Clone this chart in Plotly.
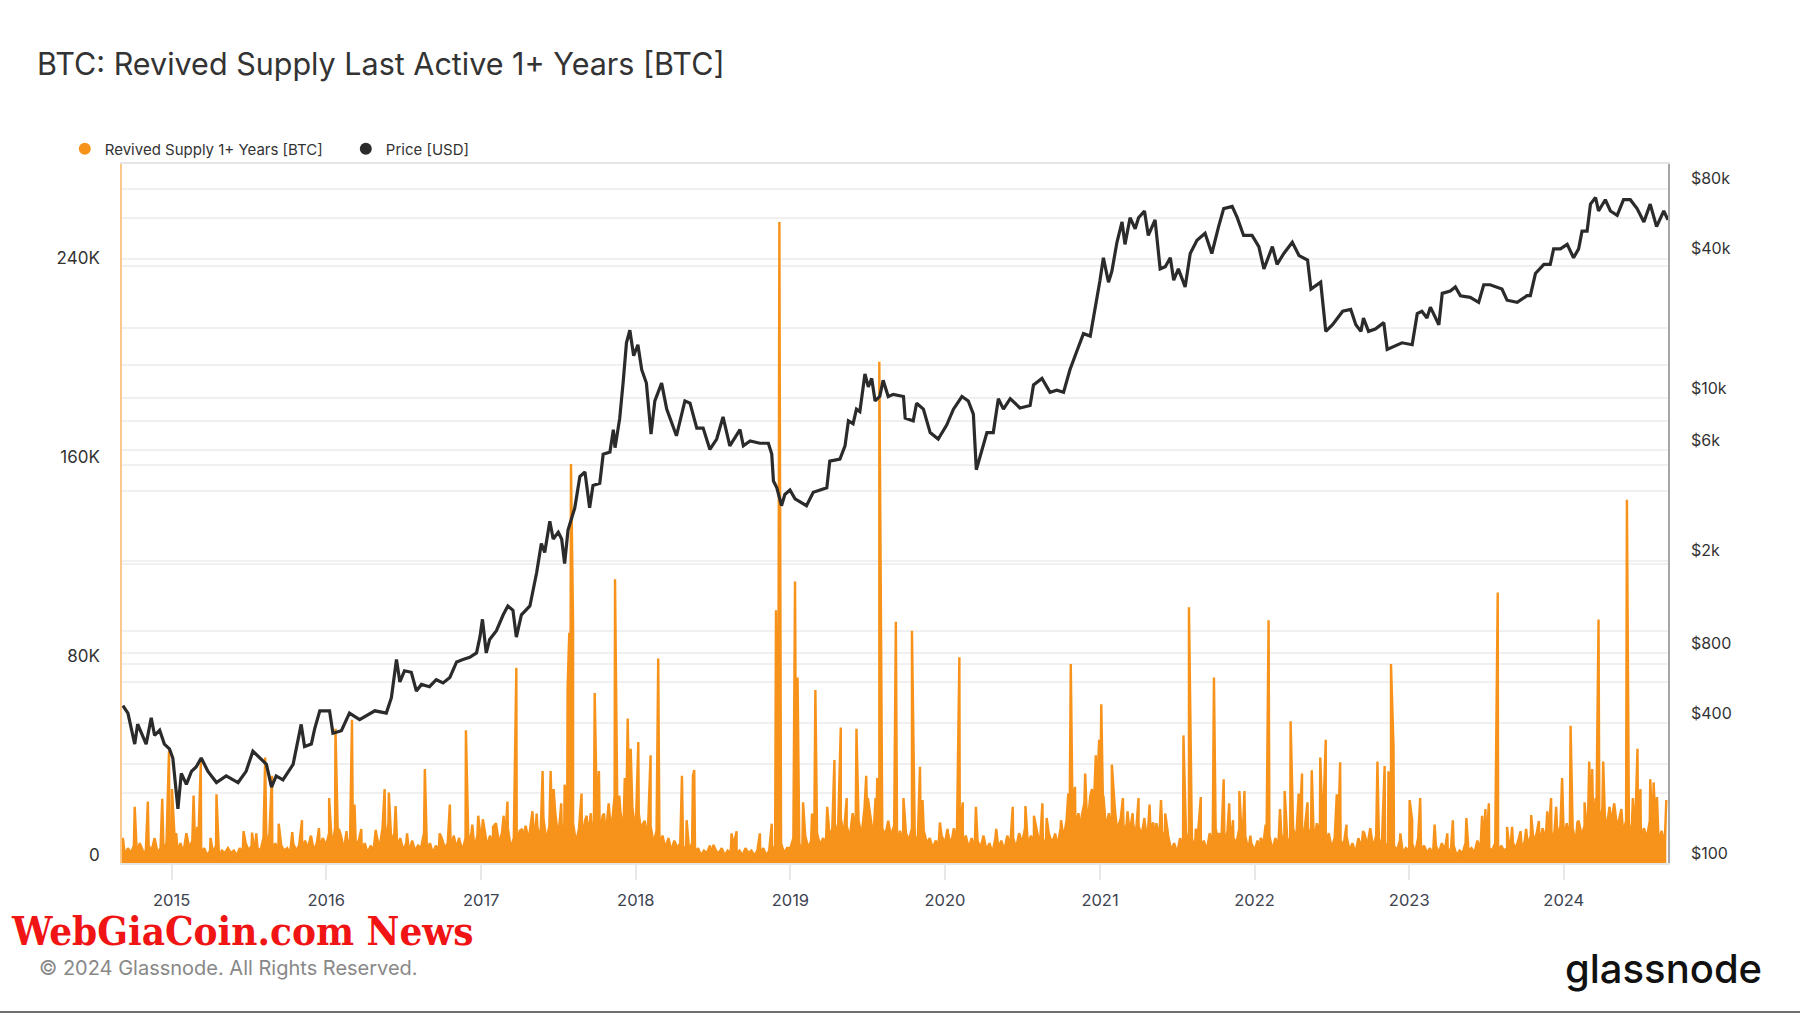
import pandas as pd
import plotly.graph_objects as go

# ---------------- Price [USD] ----------------
price_dates = [
    "2014-09-08", "2014-09-20", "2014-10-06", "2014-10-13", "2014-11-02", "2014-11-14", "2014-11-22",
    "2014-12-04", "2014-12-15", "2014-12-27", "2015-01-04", "2015-01-16", "2015-01-24", "2015-02-05",
    "2015-02-17", "2015-02-28", "2015-03-12", "2015-03-28", "2015-04-17", "2015-05-10", "2015-06-07",
    "2015-06-26", "2015-07-12", "2015-07-28", "2015-08-13", "2015-08-25", "2015-09-05", "2015-09-21",
    "2015-10-15", "2015-11-03", "2015-11-11", "2015-11-27", "2015-12-05", "2015-12-17", "2016-01-09",
    "2016-01-17", "2016-02-06", "2016-02-25", "2016-03-20", "2016-04-25", "2016-05-22", "2016-06-03",
    "2016-06-15", "2016-06-23", "2016-07-04", "2016-07-20", "2016-08-01", "2016-08-13", "2016-09-01",
    "2016-09-17", "2016-10-03", "2016-10-19", "2016-11-04", "2016-11-19", "2016-12-05", "2016-12-21",
    "2016-12-29", "2017-01-04", "2017-01-13", "2017-01-21", "2017-02-06", "2017-02-22", "2017-03-05",
    "2017-03-17", "2017-03-25", "2017-04-06", "2017-04-26", "2017-05-12", "2017-05-23", "2017-05-31",
    "2017-06-12", "2017-06-20", "2017-07-02", "2017-07-10", "2017-07-17", "2017-07-25", "2017-08-10",
    "2017-08-22", "2017-09-03", "2017-09-14", "2017-09-22", "2017-10-08", "2017-10-16", "2017-11-01",
    "2017-11-09", "2017-11-13", "2017-11-24", "2017-12-02", "2017-12-10", "2017-12-18", "2017-12-27",
    "2018-01-06", "2018-01-15", "2018-01-26", "2018-02-06", "2018-02-15", "2018-03-03", "2018-03-15",
    "2018-03-30", "2018-04-07", "2018-04-27", "2018-05-09", "2018-05-25", "2018-06-09", "2018-06-25",
    "2018-07-11", "2018-07-26", "2018-08-11", "2018-09-04", "2018-09-12", "2018-09-28", "2018-10-21",
    "2018-11-10", "2018-11-18", "2018-11-22", "2018-11-30", "2018-12-11", "2018-12-19", "2018-12-31",
    "2019-01-12", "2019-02-08", "2019-02-24", "2019-03-28", "2019-04-04", "2019-04-28", "2019-05-10",
    "2019-05-18", "2019-05-29", "2019-06-06", "2019-06-14", "2019-06-26", "2019-07-04", "2019-07-12",
    "2019-07-20", "2019-07-31", "2019-08-08", "2019-08-20", "2019-09-01", "2019-09-25", "2019-09-29",
    "2019-10-18", "2019-10-26", "2019-11-11", "2019-11-27", "2019-12-16", "2020-01-05", "2020-01-21",
    "2020-02-10", "2020-02-25", "2020-03-08", "2020-03-15", "2020-03-28", "2020-04-09", "2020-04-24",
    "2020-05-06", "2020-05-18", "2020-06-03", "2020-06-26", "2020-07-20", "2020-07-28", "2020-08-17",
    "2020-09-05", "2020-09-21", "2020-10-07", "2020-10-22", "2020-11-07", "2020-11-23", "2020-12-09",
    "2020-12-20", "2021-01-01", "2021-01-09", "2021-01-21", "2021-01-29", "2021-02-10", "2021-02-22",
    "2021-03-01", "2021-03-13", "2021-03-25", "2021-04-02", "2021-04-16", "2021-04-25", "2021-05-11",
    "2021-05-23", "2021-06-04", "2021-06-16", "2021-06-24", "2021-07-05", "2021-07-21", "2021-08-02",
    "2021-08-18", "2021-09-06", "2021-09-22", "2021-10-08", "2021-10-20", "2021-11-09", "2021-11-21",
    "2021-12-06", "2021-12-26", "2022-01-11", "2022-01-23", "2022-02-12", "2022-02-23", "2022-03-11",
    "2022-03-31", "2022-04-16", "2022-05-06", "2022-05-14", "2022-06-06", "2022-06-18", "2022-07-04",
    "2022-07-28", "2022-08-16", "2022-08-28", "2022-09-09", "2022-09-15", "2022-09-27", "2022-10-13",
    "2022-11-02", "2022-11-10", "2022-11-25", "2022-12-15", "2023-01-08", "2023-01-20", "2023-01-31",
    "2023-02-12", "2023-02-20", "2023-03-04", "2023-03-12", "2023-03-20", "2023-04-08", "2023-04-20",
    "2023-05-02", "2023-05-25", "2023-06-14", "2023-06-26", "2023-07-11", "2023-08-08", "2023-08-20",
    "2023-09-13", "2023-10-06", "2023-10-14", "2023-10-26", "2023-11-15", "2023-11-30", "2023-12-08",
    "2023-12-24", "2024-01-09", "2024-01-24", "2024-02-05", "2024-02-13", "2024-02-25", "2024-03-04",
    "2024-03-16", "2024-03-23", "2024-04-08", "2024-04-20", "2024-05-06", "2024-05-21", "2024-06-06",
    "2024-06-22", "2024-07-08", "2024-07-23", "2024-08-07", "2024-08-24", "2024-09-03",
]
price_usd = [
    476, 442, 325, 396, 325, 422, 354,
    373, 325, 310, 283, 171, 243, 218,
    248, 259, 283, 248, 222, 237, 222,
    248, 303, 283, 266, 212, 237, 228,
    266, 395, 317, 325, 379, 452, 452,
    362, 371, 442, 414, 452, 442, 515,
    752, 602, 672, 662, 550, 587, 574,
    615, 596, 629, 734, 752, 768, 802,
    938, 1119, 802, 917, 1001, 1171, 1278,
    1224, 938, 1171, 1278, 1781, 2373, 2173,
    2961, 2480, 2652, 2480, 1947, 2713, 3381,
    4609, 4818, 3381, 4219, 4313, 5749, 5875,
    7332, 6138, 8182, 11640, 17350, 19650, 15260,
    17020, 13290, 11640, 7014, 9754, 11640, 8987,
    7453, 6905, 9754, 9535, 7453, 7453, 6028,
    6686, 8330, 6247, 7343, 6247, 6554, 6412,
    6412, 5754, 4406, 4121, 3452, 3858, 4033,
    3694, 3452, 3946, 4121, 5370, 5480, 6247,
    8001, 7782, 8987, 8768, 12740, 11200, 12190,
    9754, 10190, 11970, 10190, 10410, 10190, 8220,
    8001, 9535, 8987, 7124, 6686, 7672, 8987,
    10190, 9754, 8549, 4932, 6028, 7124, 7124,
    9974, 8987, 9974, 9097, 9316, 11420, 12190,
    10630, 10850, 10630, 13290, 15920, 19000, 18560,
    23720, 32280, 40300, 31620, 35250, 47000, 57450,
    46010, 59970, 53700, 59970, 64060, 50290, 58650,
    36120, 36890, 40300, 32280, 36120, 30200, 42050,
    47980, 51390, 42050, 54900, 65590, 67020, 59970,
    50290, 50290, 45020, 36120, 45020, 37770, 42050,
    47000, 41180, 39420, 29540, 31620, 19430, 20750,
    23720, 24160, 20750, 19430, 22180, 19430, 19870,
    21190, 16250, 16690, 17350, 17020, 23170, 23720,
    22180, 24710, 22180, 20750, 28330, 28990, 30200,
    27670, 27230, 25910, 30850, 30850, 29540, 26460,
    25910, 27670, 27670, 34480, 37770, 37770, 44030,
    44030, 46010, 40300, 44030, 52480, 52480, 68580,
    73200, 64060, 71650, 64060, 61300, 71650, 71650,
    65590, 57450, 68580, 54900, 64060, 58650,
]

# ---------------- Revived Supply 1+ Years [BTC] ----------------
# weekly background level (thousand BTC), one list per year
bg_start = {"2014": "2014-09-06", "2015": "2015-01-01", "2016": "2016-01-01", "2017": "2017-01-01",
            "2018": "2018-01-01", "2019": "2019-01-01", "2020": "2020-01-01", "2021": "2021-01-01",
            "2022": "2022-01-01", "2023": "2023-01-01", "2024": "2024-01-01"}
bg_2014_k = [5, 3, 6, 4, 7, 4, 8, 5, 4, 7, 5, 10, 4, 6, 5, 8, 4]
bg_2015_k = [6, 11, 5, 8, 4, 12, 6, 9, 5, 7, 4, 6, 3, 5, 4, 7, 3, 5, 4, 6, 4, 5, 3, 6, 4, 8,
             5, 7, 4, 6, 5, 10, 6, 12, 5, 8, 4, 7, 5, 6, 4, 8, 5, 7, 4, 9, 6, 11, 5, 8, 6, 10]
bg_2016_k = [7, 12, 6, 14, 8, 11, 5, 10, 6, 13, 7, 9, 5, 8, 4, 7, 5, 11, 6, 14, 7, 16, 8, 12, 6, 10,
             5, 8, 4, 9, 5, 7, 6, 12, 5, 8, 4, 7, 5, 10, 6, 8, 5, 11, 6, 9, 5, 10, 7, 12, 6, 11]
bg_2017_k = [8, 14, 7, 11, 6, 16, 8, 12, 7, 14, 6, 10, 8, 13, 7, 15, 9, 17, 8, 14, 10, 18, 9, 15, 11, 20,
             10, 24, 12, 18, 10, 16, 8, 14, 9, 17, 11, 20, 10, 22, 12, 19, 11, 24, 14, 27, 12, 20, 14, 26, 16, 22]
bg_2018_k = [14, 20, 11, 17, 10, 15, 8, 13, 7, 11, 6, 10, 5, 9, 6, 8, 4, 7, 5, 8, 4, 6, 3, 5, 4, 7,
             3, 5, 4, 6, 3, 5, 4, 7, 4, 5, 3, 6, 4, 5, 3, 5, 4, 6, 3, 5, 4, 7, 5, 8, 4, 6]
bg_2019_k = [6, 10, 5, 8, 4, 11, 6, 9, 5, 12, 7, 10, 8, 14, 9, 16, 10, 18, 11, 15, 10, 20, 12, 17, 11, 22,
             13, 18, 10, 16, 9, 14, 11, 17, 10, 15, 8, 13, 7, 12, 9, 14, 8, 11, 7, 13, 8, 10, 6, 9, 7, 11]
bg_2020_k = [8, 12, 7, 14, 9, 13, 7, 11, 6, 10, 5, 9, 6, 11, 5, 8, 4, 10, 6, 9, 5, 11, 7, 10, 6, 12,
             8, 14, 7, 11, 8, 13, 7, 10, 6, 12, 8, 11, 7, 14, 10, 17, 12, 22, 14, 20, 12, 24, 14, 27, 16, 22]
bg_2021_k = [17, 24, 14, 20, 12, 22, 14, 18, 11, 16, 12, 20, 10, 15, 11, 17, 9, 14, 8, 16, 10, 13, 7, 11, 5, 8,
             4, 10, 6, 12, 7, 10, 5, 11, 6, 9, 5, 12, 7, 14, 8, 11, 6, 13, 7, 10, 8, 14, 6, 11, 5, 8]
bg_2022_k = [5, 9, 4, 8, 6, 11, 5, 10, 7, 12, 6, 10, 8, 14, 9, 12, 7, 15, 10, 14, 8, 16, 11, 13, 7, 12,
             6, 10, 5, 9, 7, 11, 5, 8, 4, 10, 6, 12, 7, 14, 6, 11, 5, 10, 6, 8, 4, 7, 5, 9, 4, 6]
bg_2023_k = [5, 8, 4, 10, 5, 7, 4, 6, 3, 7, 4, 8, 5, 6, 4, 7, 3, 5, 4, 8, 5, 6, 4, 9, 5, 7,
             4, 6, 5, 8, 4, 7, 5, 6, 4, 8, 6, 10, 5, 9, 7, 11, 8, 12, 7, 14, 9, 11, 8, 13, 10, 15]
bg_2024_k = [10, 16, 9, 14, 8, 17, 11, 15, 9, 18, 12, 20, 14, 22, 13, 19, 16, 24, 14, 20, 12, 17,
             10, 16, 11, 18, 9, 14, 10, 17, 12, 15, 8, 13, 7]

# single-day spikes (BTC)
spike_dates_a = [
    "2014-09-08", "2014-10-06", "2014-11-06", "2014-12-10", "2014-12-26", "2015-01-02", "2015-01-12",
    "2015-02-22", "2015-03-03", "2015-03-11", "2015-04-03", "2015-04-17", "2015-06-20", "2015-07-10",
    "2015-07-20", "2015-08-10", "2015-08-26", "2015-09-11", "2015-10-13", "2015-11-05", "2015-12-15",
    "2016-01-08", "2016-01-23", "2016-01-31", "2016-02-18", "2016-03-02", "2016-03-08", "2016-03-24",
    "2016-04-27", "2016-05-18", "2016-05-28", "2016-06-13", "2016-07-10", "2016-08-21", "2016-09-25",
    "2016-10-19", "2016-11-10", "2016-11-26", "2016-12-11", "2016-12-25", "2017-01-05", "2017-01-29",
    "2017-02-23", "2017-03-04", "2017-03-25", "2017-04-08", "2017-05-02", "2017-05-12", "2017-05-26",
    "2017-06-14", "2017-06-21", "2017-07-10", "2017-07-17", "2017-07-24", "2017-07-28", "2017-08-01",
    "2017-08-06", "2017-08-26", "2017-09-07", "2017-09-18", "2017-09-26", "2017-10-06", "2017-10-18",
    "2017-11-01", "2017-11-13", "2017-11-23", "2017-12-06", "2017-12-13", "2017-12-20", "2017-12-30",
]
spike_btc_a = [
    10100, 22600, 24700, 25800, 45100, 29700, 11900,
    27100, 14500, 40500, 10100, 27600, 12800, 12200,
    11900, 42400, 35100, 15800, 12400, 17200, 14000,
    26100, 54000, 13700, 12800, 57600, 23500, 13700,
    13300, 29700, 28300, 22900, 11900, 37800, 11900,
    23500, 10100, 53400, 15400, 19000, 17600, 14500,
    19000, 24700, 78500, 13700, 20800, 19900, 37000,
    37000, 29700, 15400, 31500, 70200, 92500, 160400,
    96100, 27900, 19000, 16300, 68300, 37000, 19900,
    18100, 114100, 27100, 34200, 58100, 45900, 14500,
]
spike_dates_b = [
    "2018-01-07", "2018-01-17", "2018-02-05", "2018-02-23", "2018-04-20", "2018-05-01", "2018-05-16",
    "2018-05-19", "2018-07-03", "2018-08-15", "2018-08-27", "2018-10-21", "2018-11-18", "2018-11-28",
    "2018-12-06", "2019-01-12", "2019-01-18", "2019-01-31", "2019-02-21", "2019-03-01", "2019-03-29",
    "2019-04-15", "2019-04-30", "2019-05-14", "2019-06-06", "2019-06-29", "2019-07-03", "2019-07-21",
    "2019-07-25", "2019-07-30", "2019-08-05", "2019-08-28", "2019-09-07", "2019-09-25", "2019-10-15",
    "2019-11-03", "2019-11-09", "2019-12-20", "2020-01-07", "2020-02-04", "2020-02-12", "2020-03-14",
    "2020-05-01", "2020-06-09", "2020-07-09", "2020-07-29", "2020-08-18", "2020-08-28", "2020-09-17",
    "2020-10-01", "2020-10-18", "2020-10-24", "2020-11-03", "2020-11-19", "2020-11-27", "2020-12-13",
    "2020-12-22", "2020-12-30",
]
spike_btc_b = [
    48600, 15400, 43300, 82200, 35100, 17200, 35100,
    37400, 7300, 11900, 12800, 11900, 15800, 101600,
    257700, 113200, 74600, 24400, 19900, 69500, 22600,
    41400, 54500, 26100, 54000, 35100, 26100, 26100,
    34200, 201500, 52200, 11900, 97000, 26100, 93400,
    38700, 25300, 16300, 13700, 82700, 24400, 22600,
    13700, 22600, 22900, 19000, 24000, 18100, 11900,
    17200, 27900, 80000, 30600, 19000, 36000, 29700,
    43300, 49500,
]
spike_dates_c = [
    "2021-01-04", "2021-01-09", "2021-01-29", "2021-02-10", "2021-02-24", "2021-03-07", "2021-03-20",
    "2021-04-02", "2021-04-16", "2021-04-28", "2021-05-07", "2021-05-25", "2021-06-04", "2021-07-17",
    "2021-07-30", "2021-08-15", "2021-08-27", "2021-09-15", "2021-09-27", "2021-10-08", "2021-10-20",
    "2021-11-02", "2021-11-11", "2021-11-26", "2021-12-08", "2021-12-22", "2022-01-15", "2022-01-27",
    "2022-02-03", "2022-03-02", "2022-03-13", "2022-03-27", "2022-04-15", "2022-04-23", "2022-05-06",
    "2022-05-16", "2022-06-05", "2022-06-18", "2022-07-14", "2022-07-22", "2022-08-06", "2022-09-14",
    "2022-10-18", "2022-11-04", "2022-11-13", "2022-11-19", "2022-11-25", "2022-12-11", "2023-01-02",
    "2023-01-08", "2023-01-27", "2023-03-02", "2023-04-01", "2023-04-14", "2023-05-16", "2023-06-22",
    "2023-06-30", "2023-07-08", "2023-07-29", "2023-08-20", "2023-09-01", "2023-09-21", "2023-10-04",
    "2023-10-16", "2023-11-03", "2023-11-23", "2023-12-02", "2023-12-14", "2023-12-28", "2024-01-17",
    "2024-02-02", "2024-02-19", "2024-03-01", "2024-03-08", "2024-03-16", "2024-03-23", "2024-04-03",
    "2024-04-18", "2024-05-16", "2024-05-29", "2024-06-12", "2024-06-23", "2024-06-30", "2024-07-23",
    "2024-07-31", "2024-08-08", "2024-08-30",
]
spike_btc_c = [
    63800, 27100, 39600, 13700, 26100, 20800, 16300,
    26100, 18100, 23500, 16300, 25300, 19900, 51300,
    102800, 13700, 26500, 10100, 74600, 11900, 33700,
    24000, 17200, 28900, 28900, 11000, 10100, 15400,
    97600, 21700, 28900, 57000, 27900, 36000, 24400,
    37300, 42400, 49500, 27600, 40500, 15400, 12800,
    40800, 39000, 36900, 80000, 46800, 11900, 25300,
    17200, 26100, 15400, 11900, 17200, 18100, 19000,
    21700, 24000, 108700, 14500, 14500, 12800, 13700,
    19300, 16900, 20800, 26100, 22600, 34200, 55200,
    16300, 24400, 40800, 37800, 26100, 97900, 40800,
    22600, 21700, 146000, 26100, 45900, 29700, 33700,
    32400, 26500, 25300,
]

# axis ticks (blank labels = gridline only)
year_ticks = [f"{y}-01-01" for y in range(2015, 2025)]
year_labels = [str(y) for y in range(2015, 2025)]
left_tickvals = [0, 40000, 80000, 120000, 160000, 200000, 240000]
left_ticktext = ["0", "", "80K", "", "160K", "", "240K"]
price_tickvals = [100, 200, 400, 600, 800, 1000, 2000, 4000, 6000, 8000, 10000, 20000, 40000, 60000, 80000]
price_ticktext = ["$100", "", "$400", "", "$800", "", "$2k", "", "$6k", "", "$10k", "", "$40k", "", "$80k"]

# ---------------- build revived-supply series ----------------
bg_lists = {"2014": bg_2014_k, "2015": bg_2015_k, "2016": bg_2016_k, "2017": bg_2017_k,
            "2018": bg_2018_k, "2019": bg_2019_k, "2020": bg_2020_k, "2021": bg_2021_k,
            "2022": bg_2022_k, "2023": bg_2023_k, "2024": bg_2024_k}
frames = []
for yr, vals in bg_lists.items():
    d = pd.date_range(bg_start[yr], periods=len(vals), freq="7D")
    frames.append(pd.DataFrame({"date": d, "btc": [v * 1000 for v in vals]}))
for dl, vl in [(spike_dates_a, spike_btc_a), (spike_dates_b, spike_btc_b), (spike_dates_c, spike_btc_c)]:
    frames.append(pd.DataFrame({"date": pd.to_datetime(dl), "btc": vl}))
rs = pd.concat(frames).sort_values("date").reset_index(drop=True)

ORANGE = "#F7931A"
DARK = "#2b2b2b"
GRID = "#f0f0f0"
FONT = "Inter, Roboto, 'Noto Sans', sans-serif"

fig = go.Figure()
fig.add_trace(go.Scatter(x=pd.to_datetime(price_dates), y=price_usd, yaxis="y2", mode="lines",
                         line=dict(color=DARK, width=3.2), showlegend=False, hoverinfo="skip"))
fig.add_trace(go.Scatter(x=rs["date"], y=rs["btc"], yaxis="y", mode="lines",
                         line=dict(color=ORANGE, width=2.4), fill="tozeroy", fillcolor=ORANGE,
                         showlegend=False, hoverinfo="skip"))
# legend entries (dot markers)
fig.add_trace(go.Scatter(x=[None], y=[None], mode="markers", name="Revived Supply 1+ Years [BTC]",
                         marker=dict(color=ORANGE, size=12)))
fig.add_trace(go.Scatter(x=[None], y=[None], mode="markers", name="Price [USD]",
                         marker=dict(color=DARK, size=12)))

fig.update_layout(
    width=1800, height=1013,
    margin=dict(l=122, r=132, t=164, b=150, pad=0),
    paper_bgcolor="white", plot_bgcolor="white",
    font=dict(family=FONT, color="#333333"),
    title=dict(text="BTC: Revived Supply Last Active 1+ Years [BTC]", xref="container", yref="container",
               x=37 / 1800, y=1 - 64 / 1013, xanchor="left", yanchor="middle",
               font=dict(size=30.5, color="#333333", family=FONT)),
    legend=dict(orientation="h", x=-0.037, y=1.0215, xanchor="left", yanchor="middle",
                font=dict(size=15, color="#333333", family=FONT), itemwidth=30,
                entrywidth=236, entrywidthmode="pixels", bgcolor="rgba(0,0,0,0)"),
    xaxis=dict(type="date", range=["2014-09-06", "2024-09-03"], tickvals=year_ticks, ticktext=year_labels,
               showgrid=False, zeroline=False, showline=True, linecolor="#e6e6e6", linewidth=1.5,
               mirror=True, ticks="outside", ticklen=15, tickcolor="#e8e8e8", tickwidth=1.5,
               ticklabelstandoff=6, tickfont=dict(size=16.5, color="#3d4350", family=FONT)),
    yaxis=dict(range=[0, 281000], tickvals=left_tickvals, ticktext=left_ticktext,
               showgrid=True, gridcolor=GRID, gridwidth=1.5, zeroline=False,
               showline=True, linecolor="#fcc98a", linewidth=1.5,
               ticks="", ticklabelstandoff=17, ticklabelshift=-8,
               tickfont=dict(size=17, color="#333333", family=FONT)),
    yaxis2=dict(type="log", overlaying="y", side="right", range=[2.0, 5.009],
                tickvals=price_tickvals, ticktext=price_ticktext, showgrid=True, gridcolor=GRID,
                gridwidth=1.5, zeroline=False, showline=True, linecolor="#a6a6a6", linewidth=1.5,
                ticks="", ticklabelstandoff=18, ticklabelshift=-10,
                tickfont=dict(size=16, color="#333333", family=FONT)),
    annotations=[
        dict(text="WebGiaCoin.com News", xref="paper", yref="paper", x=(9 - 122) / 1546,
             y=(863 - 930) / 699, xanchor="left", yanchor="middle", showarrow=False,
             font=dict(size=40, color="#f01414", family="'DejaVu Serif Condensed', 'DejaVu Serif', serif",
                       weight="bold")),
        dict(text="© 2024 Glassnode. All Rights Reserved.", xref="paper", yref="paper",
             x=(37 - 122) / 1546, y=(863 - 968) / 699, xanchor="left", yanchor="middle", showarrow=False,
             font=dict(size=20, color="#888888", family=FONT)),
        dict(text="glassnode", xref="paper", yref="paper", x=(1764 - 122) / 1546, y=(863 - 968) / 699,
             xanchor="right", yanchor="middle", showarrow=False,
             font=dict(size=40, color="#111111", family=FONT, weight=500)),
    ],
    shapes=[
        dict(type="line", xref="paper", yref="paper", x0=-0.08, x1=1.09, y0=(863 - 1012) / 699,
             y1=(863 - 1012) / 699, line=dict(color="#6e6e6e", width=2)),
    ],
)

fig.write_html("out.html", include_plotlyjs=True, full_html=True,
               config={"displayModeBar": False},
               post_script="document.body.style.margin='0px';")
